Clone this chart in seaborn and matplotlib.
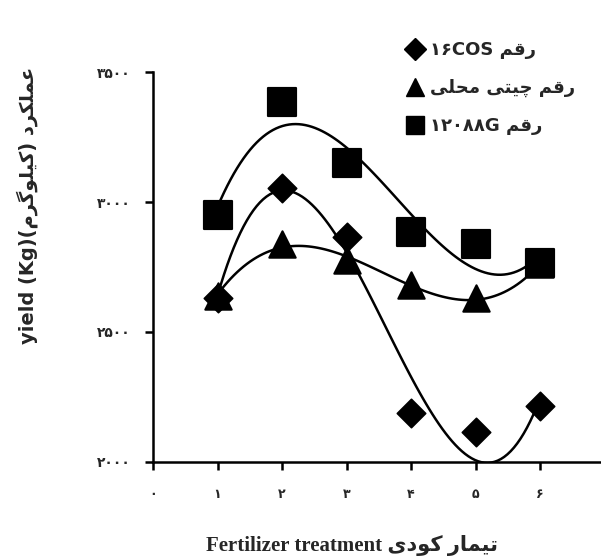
import matplotlib
matplotlib.use('Agg')
import matplotlib.pyplot as plt
from matplotlib.lines import Line2D
import numpy as np
import pandas as pd
import seaborn as sns

# Persian words written in visual order with Arabic presentation forms
# (matplotlib does no shaping / bidi by itself)
RAQAM = '\uFEE2\uFED7\uFEAD'                              # رقم
CHITI = '\uFBFD\uFE98\uFBFF\uFB7C'                        # چیتی
MAHALI = '\uFBFD\uFEE0\uFEA4\uFEE3'                       # محلی
AMALKARD = '\uFEA9\uFEAE\uFB91\uFEE0\uFEE4\uFECB'         # عملکرد
KILOGRAM = '\uFEE1\uFEAE\uFB94\uFEEE\uFEE0\uFBFF\uFB90'   # کیلوگرم
TIMAR = '\uFEAD\uFE8E\uFEE4\uFBFF\uFE97'                  # تیمار
KODI = '\uFBFC\uFEA9\uFEEE\uFB90'                         # کودی

treatment = [1, 2, 3, 4, 5, 6]
cos16 = [2630, 3055, 2865, 2190, 2115, 2215]
chiti = [2640, 2840, 2775, 2680, 2630, 2760]
g12088 = [2950, 3385, 3150, 2885, 2840, 2765]

names = ['۱۶COS ' + RAQAM,
         MAHALI + ' ' + CHITI + ' ' + RAQAM,
         '۱۲۰۸۸G ' + RAQAM]

x_ticks = [0, 1, 2, 3, 4, 5, 6, 7]
x_labels = ['۰', '۱', '۲', '۳', '۴', '۵', '۶', '۷']
y_ticks = [2000, 2500, 3000, 3500]
y_labels = ['۲۰۰۰', '۲۵۰۰', '۳۰۰۰', '۳۵۰۰']

df = pd.DataFrame({
    'treatment': treatment * 3,
    'yield': cos16 + chiti + g12088,
    'variety': [names[0]] * 6 + [names[1]] * 6 + [names[2]] * 6,
})

sns.set_style('ticks')
plt.rcParams['font.family'] = ['DejaVu Sans']
plt.rcParams['font.weight'] = 'bold'

fig = plt.figure(figsize=(6.01, 5.57), dpi=100)
ax = fig.add_axes([0.2546, 0.1706, 0.7513, 0.7001])

markers = ['D', '^', 's']
sizes = [210, 360, 380]
draw_order = [0, 1, 2]
for i in draw_order:
    sub = df[df['variety'] == names[i]]
    sns.scatterplot(data=sub, x='treatment', y='yield', marker=markers[i],
                    s=sizes[i], color='black', edgecolor='black', ax=ax,
                    zorder=3 + i, legend=False)
# excel-like polynomial trendlines (order 3)
for i in draw_order:
    sub = df[df['variety'] == names[i]]
    sns.regplot(data=sub, x='treatment', y='yield', order=3, ci=None,
                scatter=False, ax=ax,
                line_kws={'color': 'black', 'lw': 1.8, 'zorder': 2})

ax.set_xlim(0, 7)
ax.set_ylim(2000, 3500)
ax.set_xticks(x_ticks)
ax.set_xticklabels(x_labels, fontsize=9, fontweight='bold')
ax.set_yticks(y_ticks)
ax.set_yticklabels(y_labels, fontsize=10, fontweight='bold')
ax.tick_params(direction='out', length=6, width=1.8, pad=10, color='black')
ax.tick_params(axis='x', pad=13)
ax.set_xlabel('')
ax.set_ylabel('')
sns.despine(ax=ax)
for side in ['left', 'bottom']:
    ax.spines[side].set_linewidth(1.8)
    ax.spines[side].set_color('black')

handles = [Line2D([], [], marker=m, color='black', linestyle='none',
                  markersize=ms) for m, ms in zip(markers, [11, 13, 13])]
fig.legend(handles, names, loc='upper left', bbox_to_anchor=(0.648, 0.955),
           frameon=False, labelspacing=1.1, handletextpad=0.35,
           handlelength=1.0, prop={'size': 13, 'weight': 'bold'})

fig.text(27 / 601, 1 - 205 / 557,
         'yield (Kg)(' + KILOGRAM + ') ' + AMALKARD,
         rotation=90, ha='center', va='center', fontsize=14, fontweight='bold')
fig.text(352 / 601, 1 - 545 / 557,
         'Fertilizer treatment ' + KODI + ' ' + TIMAR,
         ha='center', va='center', fontsize=15, fontweight='bold',
         family=['Liberation Serif', 'DejaVu Sans'])

fig.savefig('out.png', dpi=100)
